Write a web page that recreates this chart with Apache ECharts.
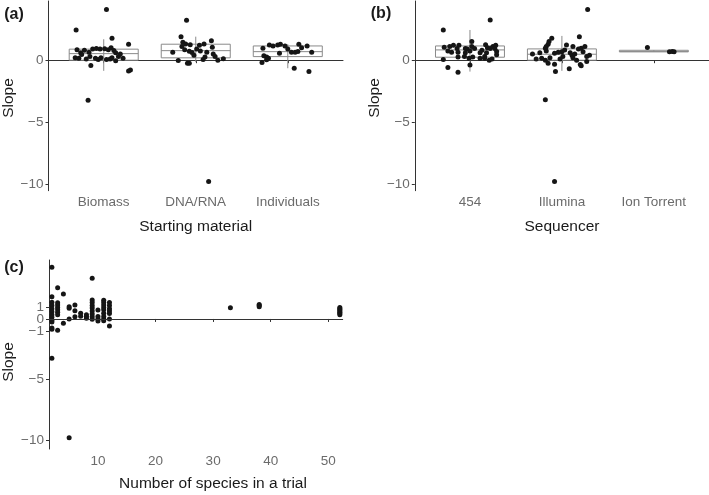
<!DOCTYPE html>
<html><head><meta charset="utf-8">
<script src="https://cdn.jsdelivr.net/npm/echarts@6/dist/echarts.min.js"></script>
<style>html,body{margin:0;padding:0;background:#fff}#c{width:709px;height:495px}</style>
</head><body><div id="c"></div>
<script>
// ---------- DATA ----------
const materialCats = ['Biomass', 'DNA/RNA', 'Individuals'];
const sequencerCats = ['454', 'Illumina', 'Ion Torrent'];
const slopeTicksAB = [-10, -5, 0];
const slopeTicksC = [-10, -5, 0];
const slopeTicksCMinusOne = [-1];
const slopeTicksCOne = [1];
const speciesTicks = [10, 20, 30, 40, 50];

// jittered points per group: [jitter offset within category, slope]
const biomassPts = [[-0.30,2.44],[0.03,4.1],[0.09,1.77],[0.27,1.29],[-0.29,0.85],[-0.25,0.6],[-0.21,0.8],[-0.16,0.65],[-0.12,0.9],[-0.08,0.95],[-0.04,0.9],[0.01,0.92],[0.05,0.85],[0.08,1.0],[0.11,0.78],[0.13,0.6],[-0.31,0.2],[-0.27,0.15],[-0.19,0.1],[-0.15,0.3],[-0.09,0.15],[-0.06,0.05],[-0.03,0.2],[0.03,0.05],[0.07,0.1],[0.09,0.2],[0.13,-0.05],[0.16,0.3],[0.21,0.15],[-0.14,-0.43],[0.29,-0.8],[0.27,-0.87],[-0.17,-3.23],[0.18,0.5],[-0.24,0.45]];
const dnaPts = [[-0.10,3.23],[-0.16,1.9],[0.17,1.56],[-0.14,1.45],[-0.11,1.3],[-0.06,1.25],[0.04,1.2],[0.09,1.3],[0.18,1.05],[-0.15,1.1],[-0.12,0.85],[-0.07,0.72],[-0.04,0.62],[0.01,0.9],[0.05,0.75],[0.12,0.65],[0.19,0.5],[-0.25,0.64],[-0.02,0.4],[0.10,0.25],[-0.19,-0.03],[-0.09,-0.25],[-0.07,-0.25],[0.08,0.05],[0.24,0.0],[0.30,0.12],[0.14,-9.8],[0.21,0.3]];
const individualsPts = [[-0.27,0.97],[-0.20,1.23],[-0.16,1.15],[-0.11,1.23],[-0.08,1.29],[-0.03,1.15],[0.12,1.29],[0.21,1.15],[0.15,1.0],[-0.09,0.56],[0.04,0.64],[0.08,0.64],[0.11,0.7],[0.26,0.64],[-0.26,0.35],[-0.23,0.25],[-0.21,0.15],[-0.23,0.03],[-0.28,-0.19],[0.07,-0.65],[0.23,-0.92],[0.0,0.9]];
const pts454 = [[-0.29,2.44],[0.22,3.25],[0.02,1.5],[-0.28,1.05],[-0.22,1.1],[-0.18,1.2],[-0.14,0.95],[-0.12,1.2],[-0.05,0.95],[-0.03,0.9],[0.02,1.1],[0.05,0.95],[0.17,1.25],[0.19,1.0],[0.22,0.95],[0.25,1.1],[0.27,0.95],[0.28,1.2],[-0.24,0.75],[-0.20,0.65],[-0.13,0.65],[-0.05,0.6],[0.0,0.75],[0.11,0.6],[0.18,0.6],[0.29,0.7],[-0.29,0.05],[-0.13,0.25],[-0.06,0.3],[-0.01,0.15],[0.03,0.25],[0.11,0.15],[0.16,0.15],[0.21,0.0],[0.24,0.1],[0.16,0.3],[-0.24,-0.6],[0.0,-0.38],[-0.13,-0.97],[0.29,0.43],[0.13,0.8]];
const illuminaPts = [[0.28,4.1],[-0.18,-3.2],[-0.08,-9.8],[-0.11,1.77],[-0.14,1.5],[-0.15,1.29],[-0.17,1.1],[-0.18,0.97],[-0.17,0.75],[0.19,1.9],[0.05,1.23],[0.12,1.1],[0.18,0.91],[0.21,0.97],[0.23,0.69],[0.25,1.1],[0.03,0.83],[0.0,0.69],[-0.04,0.64],[-0.08,0.56],[0.09,0.6],[0.11,0.4],[0.14,0.5],[-0.28,0.1],[-0.22,0.15],[-0.18,0.0],[-0.13,0.2],[0.01,0.3],[0.12,0.2],[0.16,0.0],[0.27,0.3],[0.30,0.4],[-0.15,-0.25],[-0.08,-0.32],[0.20,-0.35],[0.21,-0.45],[-0.07,-0.92],[0.08,-0.7],[0.27,-0.1],[-0.32,0.5],[-0.02,0.1],[-0.24,0.6]];
const ionPts = [[-0.07,1.02],[0.17,0.68],[0.20,0.7],[0.22,0.68]];

// box stats: [lower whisker, Q1, median, Q3, upper whisker]
const materialBoxes = [[-0.86,0.0,0.53,0.89,1.69],[-0.16,0.19,0.77,1.29,1.9],[-0.65,0.29,0.69,1.15,1.29]];
const sequencerBoxes = [[-0.92,0.24,0.83,1.15,2.44],[-0.86,0.0,0.48,0.91,1.96],[0.68,0.68,0.69,0.8,0.8]];

// panel (c): number of species vs slope
const speciesN = [2,2,2,2,2,2,2,2,2,2,2,2,2, 3,3,3,3,3,3,3,3, 4,4, 5,5,5,5, 6,6,6, 7,7, 8,8,8, 9,9,9,9,9,9,9,9,9, 10,10,10,10, 11,11,11,11,11,11,11,11,11, 12,12,12,12,12,12,12, 33, 38,38,38, 52,52,52,52,52,52,52];
const speciesSlope = [4.26,1.84,1.37,1.1,0.85,0.6,0.35,0.15,-0.1,-0.25,-0.75,-0.85,-3.24, 2.58,1.34,1.15,0.95,0.75,0.55,0.35,-0.93, 2.05,-0.36, 1.0,0.88,0.0,-9.8, 1.15,0.68,0.19, 0.47,0.22, 0.35,0.2,0.05, 3.35,1.57,1.35,1.1,0.9,0.66,0.4,0.19,-0.03, 0.74,0.2,0.0,-0.16, 1.55,1.35,1.15,0.95,0.75,0.47,0.2,0.0,-0.15, 1.35,1.1,0.85,0.65,0.45,0.0,-0.58, 0.93, 1.2,1.1,1.0, 0.95,0.85,0.75,0.65,0.55,0.45,0.35];

// ---------- CHART ----------
const FONT = '"Liberation Sans", Arial, Helvetica, sans-serif';
const AXIS_COL = '#333';
const TICK_TXT = '#6b6b6b';
const BOX_COL = '#8a8a8a';
const PT_COL = '#151515';
const PT_SIZE = 5;
const minus = v => String(v).replace('-', '\u2212');

function catXAxis(gi, cats) {
  return {
    gridIndex: gi, type: 'value', min: 0.4, max: 3.6,
    axisLine: { show: true, lineStyle: { color: AXIS_COL, width: 1 } },
    axisTick: { show: true, customValues: [1, 2, 3], length: 3, lineStyle: { color: AXIS_COL } },
    axisLabel: { customValues: [1, 2, 3], formatter: v => cats[Math.round(v) - 1], color: TICK_TXT, fontSize: 13.5, fontFamily: FONT, margin: 5, hideOverlap: false, showMinLabel: true, showMaxLabel: true },
    splitLine: { show: false }
  };
}
function slopeYAxis(gi, min, max, ticks, showLine) {
  return {
    gridIndex: gi, type: 'value', min: min, max: max, position: 'left', offset: 0,
    axisLine: { show: showLine, lineStyle: { color: AXIS_COL, width: 1 } },
    axisTick: { show: true, customValues: ticks, length: 3, lineStyle: { color: AXIS_COL } },
    axisLabel: { customValues: ticks, formatter: minus, color: TICK_TXT, fontSize: 13.5, fontFamily: FONT, margin: 5, hideOverlap: false, showMinLabel: true, showMaxLabel: true },
    splitLine: { show: false }
  };
}
function boxRender(params, api) {
  const x = api.value(0);
  const lo = api.coord([x, api.value(1)]);
  const q1 = api.coord([x, api.value(2)]);
  const md = api.coord([x, api.value(3)]);
  const q3 = api.coord([x, api.value(4)]);
  const hi = api.coord([x, api.value(5)]);
  const w = api.size([0.75, 0])[0];
  const cx = lo[0];
  const st = { stroke: BOX_COL, fill: null, lineWidth: 1 };
  return {
    type: 'group', children: [
      { type: 'line', shape: { x1: cx, y1: hi[1], x2: cx, y2: lo[1] }, style: st },
      { type: 'rect', shape: { x: cx - w / 2, y: q3[1], width: w, height: q1[1] - q3[1] }, style: { stroke: BOX_COL, fill: 'rgba(0,0,0,0)', lineWidth: 1 } },
      { type: 'line', shape: { x1: cx - w / 2, y1: md[1], x2: cx + w / 2, y2: md[1] }, style: st }
    ]
  };
}
function boxData(boxes) { return boxes.map((b, i) => [i + 1].concat(b)); }
function jitterData(groups) {
  const out = [];
  groups.forEach((g, i) => g.forEach(p => out.push([i + 1 + p[0], p[1]])));
  return out;
}
function txt(text, x, y, opts) {
  return {
    type: 'text', x: x, y: y,
    style: Object.assign({ text: text, fill: '#1a1a1a', font: '15.5px ' + FONT, align: 'center', verticalAlign: 'middle' }, opts || {})
  };
}

const chart = echarts.init(document.getElementById('c'), null, { renderer: 'canvas' });
chart.setOption({
  animation: false,
  backgroundColor: '#fff',
  grid: [
    { left: 48.5, top: 1, width: 294.5, height: 189.7 },
    { left: 414.8, top: 1, width: 294.2, height: 189.7 },
    { left: 49, top: 260, width: 293.7, height: 189 }
  ],
  xAxis: [
    catXAxis(0, materialCats),
    catXAxis(1, sequencerCats),
    {
      gridIndex: 2, type: 'value', min: 1.5, max: 52.5,
      axisLine: { show: true, lineStyle: { color: AXIS_COL, width: 1 } },
      axisTick: { show: true, customValues: speciesTicks, length: 3, lineStyle: { color: AXIS_COL } },
      axisLabel: { customValues: speciesTicks, color: TICK_TXT, fontSize: 13.5, fontFamily: FONT, margin: 5, showMinLabel: true, showMaxLabel: true },
      splitLine: { show: false }
    }
  ],
  yAxis: [
    slopeYAxis(0, -10.54, 4.78, slopeTicksAB, true),
    slopeYAxis(1, -10.54, 4.78, slopeTicksAB, true),
    slopeYAxis(2, -10.72, 4.86, slopeTicksC, true),
    slopeYAxis(2, -10.72, 4.86, slopeTicksCMinusOne, false),
    slopeYAxis(2, -10.72, 4.86, slopeTicksCOne, false)
  ],
  series: [
    { type: 'custom', xAxisIndex: 0, yAxisIndex: 0, renderItem: boxRender, data: boxData(materialBoxes), z: 1, silent: true },
    { type: 'custom', xAxisIndex: 1, yAxisIndex: 1, renderItem: boxRender, data: boxData(sequencerBoxes), z: 1, silent: true },
    { type: 'scatter', xAxisIndex: 0, yAxisIndex: 0, symbolSize: PT_SIZE, itemStyle: { color: PT_COL, opacity: 1 }, data: jitterData([biomassPts, dnaPts, individualsPts]), z: 3 },
    { type: 'scatter', xAxisIndex: 1, yAxisIndex: 1, symbolSize: PT_SIZE, itemStyle: { color: PT_COL, opacity: 1 }, data: jitterData([pts454, illuminaPts, ionPts]), z: 3 },
    {
      type: 'scatter', xAxisIndex: 2, yAxisIndex: 2, symbolSize: PT_SIZE, itemStyle: { color: PT_COL, opacity: 1 },
      data: speciesN.map((n, i) => [n, speciesSlope[i]]), z: 3,
      markLine: { silent: true, symbol: 'none', label: { show: false }, lineStyle: { color: AXIS_COL, width: 1, type: 'solid' }, data: [{ yAxis: 0 }] }
    }
  ],
  graphic: [
    txt('(a)', 14, 15, { font: 'bold 16px ' + FONT }),
    txt('(b)', 381, 14, { font: 'bold 16px ' + FONT }),
    txt('(c)', 14, 268, { font: 'bold 16px ' + FONT }),
    Object.assign(txt('Slope', 9, 98), { rotation: Math.PI / 2 }),
    Object.assign(txt('Slope', 375, 98), { rotation: Math.PI / 2 }),
    Object.assign(txt('Slope', 9, 362), { rotation: Math.PI / 2 }),
    txt('Starting material', 195.7, 227),
    txt('Sequencer', 562, 227),
    txt('Number of species in a trial', 213, 484)
  ]
});
</script>
</body></html>
